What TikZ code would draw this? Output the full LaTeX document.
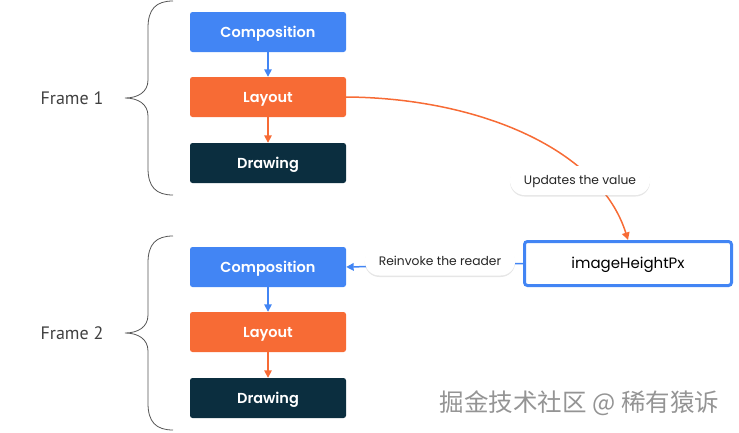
\documentclass[tikz,border=0pt]{standalone}
\usepackage{fontspec}
\setmainfont{Poppins}
\newfontfamily\boxfont{Poppins SemiBold}
\newfontfamily\framefont{PT Sans}
\newfontfamily\cjk{Noto Sans CJK SC}
\usetikzlibrary{arrows.meta,shadows}
\definecolor{gblue}{HTML}{4285F4}
\definecolor{gorange}{HTML}{F76B35}
\definecolor{gnavy}{HTML}{0B2E3F}
\definecolor{bracegray}{HTML}{555555}
\tikzset{
  stage/.style={rounded corners=2.5pt, minimum width=156pt, minimum height=40pt, inner sep=0pt,
    text height=10.5pt, text depth=0.5pt,
    text=white, font=\boxfont\fontsize{14.5}{16}\selectfont},
  comp/.style={stage, fill=gblue},
  lay/.style={stage, fill=gorange},
  drw/.style={stage, fill=gnavy},
  pill/.style={rounded corners=14.5pt, fill=white, minimum height=29pt, inner xsep=14pt,
    text height=9pt, text depth=0.5pt,
    font=\fontsize{12.3}{14}\selectfont, text=black!85,
    drop shadow={opacity=0.2, shadow xshift=0pt, shadow yshift=-1.5pt}},
  brace/.style={draw=bracegray, line width=0.8pt},
  framelbl/.style={font=\framefont\fontsize{18}{20}\selectfont, text=black!75},
  tip/.style={-{Triangle[length=7.5pt,width=7.5pt]}},
  conn/.style={line width=1.5pt, tip},
}
\begin{document}
\begin{tikzpicture}[x=1pt,y=-1pt]
\useasboundingbox (0,0) rectangle (739,432);
% Frame 1
\node[comp] (c1) at (268,32) {Composition};
\node[lay]  (l1) at (268,97) {Layout};
\node[drw]  (d1) at (268,163) {Drawing};
% Frame 2
\node[comp] (c2) at (268,267) {Composition};
\node[lay]  (l2) at (268,332) {Layout};
\node[drw]  (d2) at (268,398) {Drawing};
\draw[gblue, conn] (c1) -- (l1);
\draw[gorange, conn] (l1) -- (d1);
\draw[gblue, conn] (c2) -- (l2);
\draw[gorange, conn] (l2) -- (d2);
% braces
\draw[brace] (173,1) .. controls (156,1) and (148,9) .. (148,28) -- (148,80)
  .. controls (148,92) and (138,98) .. (125,98)
  .. controls (138,98) and (148,104) .. (148,116) -- (148,168)
  .. controls (148,187) and (156,195) .. (173,195);
\begin{scope}[yshift=-235pt]
\draw[brace] (173,1) .. controls (156,1) and (148,9) .. (148,28) -- (148,80)
  .. controls (148,92) and (138,98) .. (125,98)
  .. controls (138,98) and (148,104) .. (148,116) -- (148,168)
  .. controls (148,187) and (156,195) .. (173,195);
\end{scope}
\node[framelbl] (f1) at (72,98) {Frame 1};
\node[framelbl] (f2) at (72,333) {Frame 2};
% imageHeightPx
\node[draw=gblue, line width=3pt, rounded corners=3pt, minimum width=207pt, minimum height=44pt,
  text height=11pt, text depth=1pt,
  font=\fontsize{15}{17}\selectfont] (img) at (628,263.5) {imageHeightPx};
% orange curve
\draw[gorange, conn] (l1.east) .. controls (480,98) and (600,150) .. (img.north);
\node[pill] (upd) at (580,180.5) {Updates the value};
% blue reinvoke
\draw[gblue, conn] (img.west) -- (c2.east);
\node[pill] (rein) at (440,261) {Reinvoke the reader};
% watermark
\node[font=\cjk\fontsize{24.5}{28}\selectfont, text=black!42] (wm) at (579.5,403) {掘金技术社区 @ 稀有猿诉};
\end{tikzpicture}
\end{document}
